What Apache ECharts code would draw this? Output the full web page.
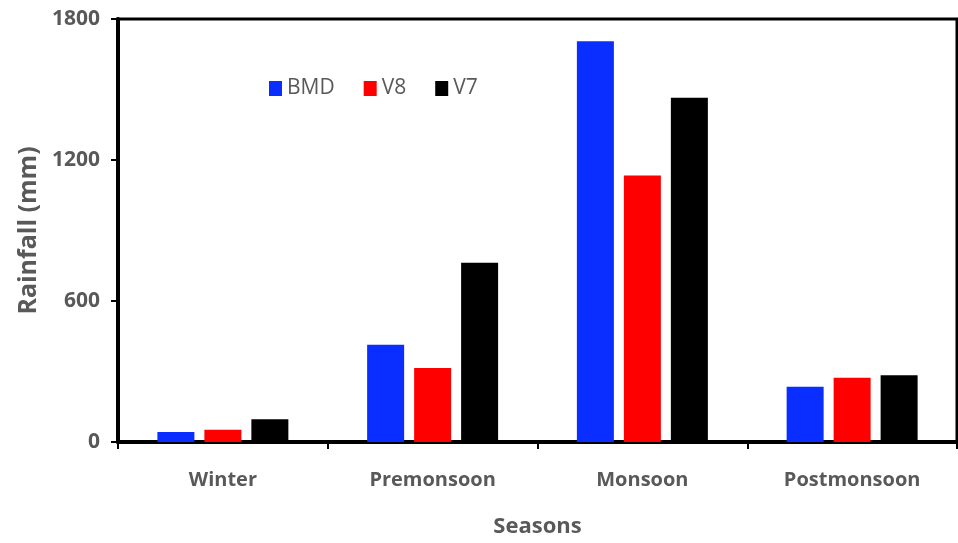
<!DOCTYPE html>
<html>
<head>
<meta charset="utf-8">
<script src="https://cdn.jsdelivr.net/npm/echarts@6/dist/echarts.min.js"></script>
<style>
  html, body { margin: 0; padding: 0; background: #fff; }
  #chart { width: 958px; height: 543px; }
</style>
</head>
<body>
<div id="chart"></div>
<script>
  // seasons and rainfall (mm)
  var seasons = ['Winter', 'Premonsoon', 'Monsoon', 'Postmonsoon'];
  var bmd = [43, 414, 1705, 235];
  var v8 = [52, 315, 1134, 273];
  var v7 = [97, 763, 1465, 284];
  var yTicks = [0, 600, 1200, 1800];

  var grey = '#595959';
  var font = 'Open Sans';

  var chart = echarts.init(document.getElementById('chart'));
  chart.setOption({
    animation: false,
    grid: {
      left: 118, top: 19, right: 1, bottom: 101,
      show: true, borderColor: '#000', borderWidth: 3
    },
    legend: {
      left: 264, top: 73,
      itemWidth: 13, itemHeight: 15, itemGap: 29,
      icon: 'rect',
      textStyle: { color: grey, fontSize: 21, fontFamily: font },
      data: ['BMD', 'V8', 'V7']
    },
    xAxis: {
      type: 'category',
      data: seasons,
      name: 'Seasons',
      nameLocation: 'middle',
      nameGap: 74,
      nameTextStyle: { color: grey, fontSize: 22, fontWeight: 'bold', fontFamily: font },
      axisLine: { lineStyle: { color: '#000', width: 4 } },
      axisTick: { show: true, length: 7, lineStyle: { color: '#000', width: 2 } },
      axisLabel: { color: grey, fontSize: 20, fontWeight: 'bold', fontFamily: font, margin: 28 }
    },
    yAxis: {
      type: 'value',
      min: yTicks[0], max: yTicks[yTicks.length - 1], interval: 600,
      name: 'Rainfall (mm)',
      nameLocation: 'middle',
      nameGap: 76,
      nameTextStyle: { color: grey, fontSize: 25, fontWeight: 'bold', fontFamily: font },
      splitLine: { show: false },
      axisLine: { show: true, lineStyle: { color: '#000', width: 4 } },
      axisTick: { show: true, length: 7, lineStyle: { color: '#000', width: 2 } },
      axisLabel: {
        color: grey, fontSize: 21, fontWeight: 'bold', fontFamily: font, margin: 18,
        formatter: function (v) { return String(v); }
      }
    },
    series: [
      { name: 'BMD', type: 'bar', data: bmd, barWidth: 37, barGap: '27%', itemStyle: { color: '#0a2eff' } },
      { name: 'V8', type: 'bar', data: v8, barWidth: 37, barGap: '27%', itemStyle: { color: '#ff0000' } },
      { name: 'V7', type: 'bar', data: v7, barWidth: 37, barGap: '27%', itemStyle: { color: '#000000' } }
    ]
  });
</script>
</body>
</html>
